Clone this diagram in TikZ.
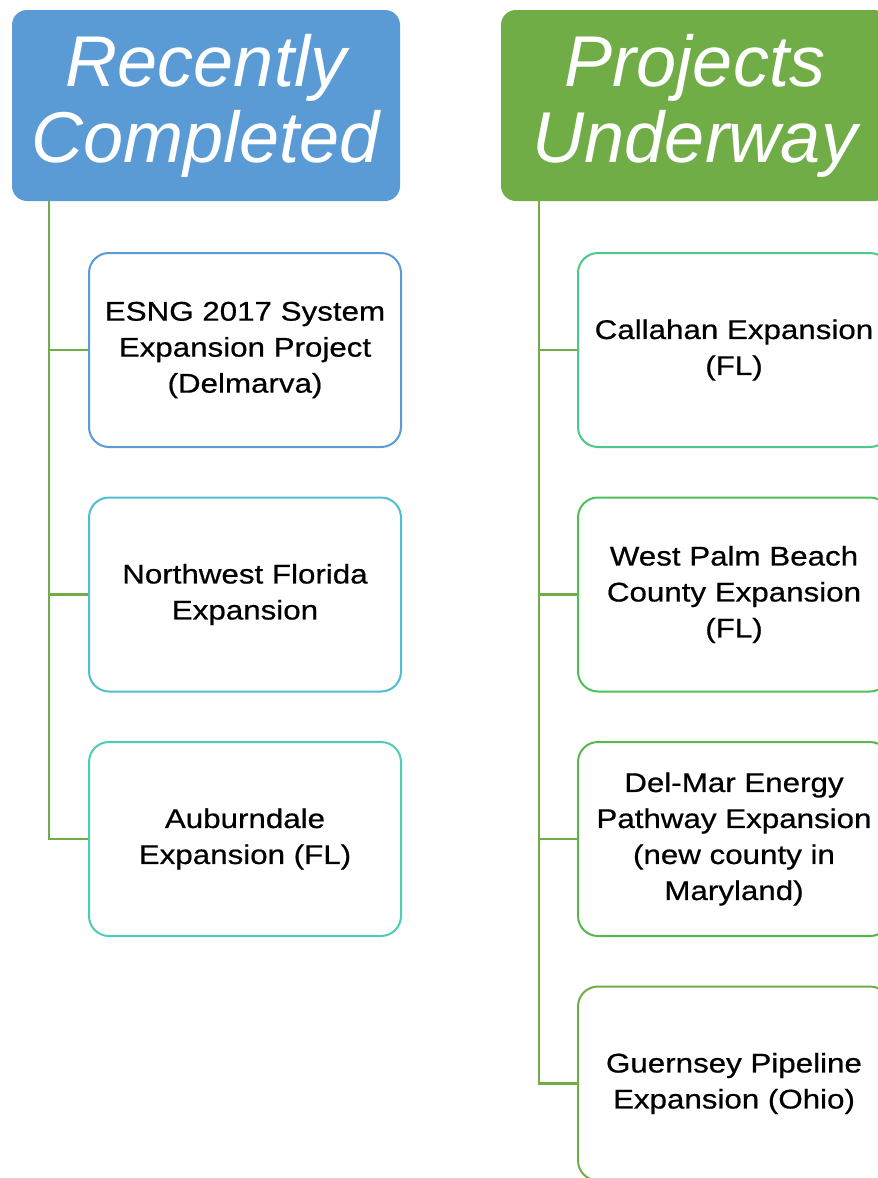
\documentclass[tikz,border=0pt]{standalone}
\usepackage{fontspec}
\newfontfamily\headfont{Liberation Sans}
\newfontfamily\boxfont{Liberation Sans}[FakeStretch=1.16, FakeBold=0.6]
\usepackage{xcolor}
\usepackage{tikz}
\usetikzlibrary{
    positioning
}

\definecolor{headBlue}{HTML}{5B9BD5}
\definecolor{headGreen}{HTML}{70AD47}
\definecolor{edgeCyan}{HTML}{4FBFD0}
\definecolor{edgeTeal}{HTML}{4ECDB6}
\definecolor{edgeMint}{HTML}{4CC98A}
\definecolor{edgeLeaf}{HTML}{4DC05C}
\definecolor{edgeMoss}{HTML}{57B74B}

\begin{document}
\begin{tikzpicture}[
      x=1pt, y=-1pt,
      head/.style={rounded corners=15pt, minimum width=388pt, minimum height=191pt,
        inner sep=0pt, text=white, align=center,
        font=\headfont\itshape\fontsize{72}{76}\selectfont},
      item/.style={draw, line width=2pt, rounded corners=20pt, fill=white,
        minimum width=312pt, minimum height=194pt, inner sep=0pt, align=center,
        font=\boxfont\fontsize{27}{36}\selectfont},
      link/.style={draw=headGreen, line width=2.5pt},
      node distance=48.5pt
    ]
    \clip (0,0) rectangle (878,1178);

    % recently completed column
    \node[head, fill=headBlue] (done) at (206,105.5) {Recently\\Completed};
    \node[item, draw=headBlue] (done1) at (245,350) {ESNG 2017 System\\Expansion Project\\(Delmarva)};
    \node[item, draw=edgeCyan, below=of done1] (done2) {Northwest Florida\\Expansion};
    \node[item, draw=edgeTeal, below=of done2] (done3) {Auburndale\\Expansion (FL)};

    % projects underway column
    \node[head, fill=headGreen] (todo) at (695,105.5) {Projects\\Underway};
    \node[item, draw=edgeMint] (todo1) at (734,350) {Callahan Expansion\\(FL)};
    \node[item, draw=edgeLeaf, below=of todo1] (todo2) {West Palm Beach\\County Expansion\\(FL)};
    \node[item, draw=edgeMoss, below=of todo2] (todo3) {Del-Mar Energy\\Pathway Expansion\\(new county in\\Maryland)};
    \node[item, draw=headGreen, below=of todo3] (todo4) {Guernsey Pipeline\\Expansion (Ohio)};

    % tree lines
    \coordinate (spineL) at ([xshift=37pt]done.south west);
    \coordinate (spineR) at ([xshift=38pt]todo.south west);
    \foreach \i in {1,2,3}
      \draw[link] (spineL) |- (done\i.west);
    \foreach \i in {1,2,3,4}
      \draw[link] (spineR) |- (todo\i.west);
  \end{tikzpicture}
\end{document}
